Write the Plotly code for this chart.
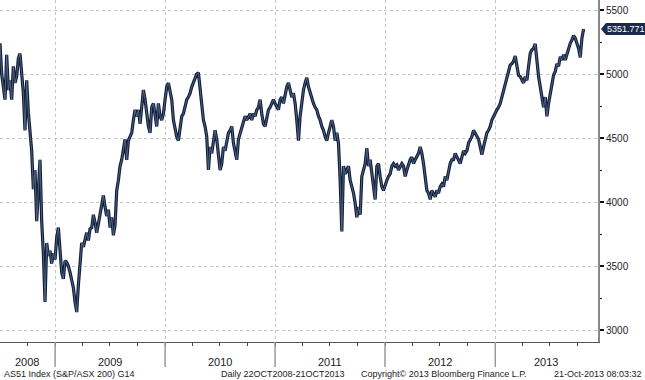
import pandas as pd
import plotly.graph_objects as go

# ---- data ----
start_date = "2008-07-02"
step = "7970min"   # sampling interval of the readings (~5.5 days)

values = [
    # Jul 2008 - Dec 2008 / early 2009
    5240, 5000, 4900, 4800, 5150, 4875, 4950, 4800, 5060, 4930,
    4980, 5120, 5160, 5030, 4850, 4560, 4950, 4700, 4560, 4400,
    4100, 4250, 3850, 4150, 4330, 3850, 3600, 3220, 3680, 3580,
    3620, 3520, 3600, 3550, 3720, 3800, 3650, 3450, 3400, 3540,
    3530, 3500, 3450, 3400, 3330, 3220, 3140, 3350, 3550, 3680,
    3650, 3720, 3760, 3700, 3790, 3800, 3900, 3840, 3760, 3830,
    3910, 3990, 4050, 3960, 3890, 3940, 3800, 3880, 3740, 3820,
    # 2009 - 2010
    4090, 4170, 4280, 4330, 4400, 4490, 4330, 4480, 4510, 4540,
    4640, 4720, 4670, 4720, 4610, 4740, 4875, 4800, 4670, 4590,
    4540, 4740, 4770, 4690, 4590, 4770, 4670, 4640, 4690, 4800,
    4900, 4930, 4875, 4800, 4640, 4560, 4510, 4480, 4590, 4670,
    4690, 4740, 4800, 4820, 4850, 4900, 4930, 4960, 5000, 5010,
    4880, 4750, 4640, 4590, 4510, 4250, 4430, 4380, 4490, 4560,
    4490, 4350, 4250, 4300, 4430, 4400,
    # 2010 - 2011
    4490, 4540, 4560, 4590, 4460, 4400, 4330, 4490, 4540, 4590,
    4640, 4670, 4640, 4670, 4690, 4640, 4690, 4670, 4720, 4740,
    4800, 4690, 4610, 4590, 4670, 4720, 4740, 4770, 4800, 4770,
    4740, 4720, 4800, 4820, 4770, 4850, 4900, 4930, 4875, 4820,
    4850, 4770, 4640, 4480, 4670, 4800, 4875, 4930, 4970, 4900,
    4850, 4800, 4770, 4740, 4720, 4670, 4640, 4590, 4560, 4510,
    4480, 4540, 4590, 4640, 4590, 4480,
    # 2011 - 2012
    4540, 4460, 4170, 3770, 4280, 4220, 4250, 4280, 4170, 4120,
    4070, 3990, 3880, 3960, 3900, 4200, 4250, 4300, 4420, 4280,
    4330, 4220, 4120, 4020, 4280, 4300, 4200, 4120, 4090, 4140,
    4170, 4200, 4220, 4280, 4300, 4280, 4290, 4250, 4280, 4300,
    4280, 4200, 4250, 4300, 4330, 4350, 4300, 4330, 4350, 4380,
    4430, 4380, 4300, 4200, 4090, 4070, 4020, 4090, 4070, 4040,
    4090, 4070, 4120, 4140, 4120, 4200,
    # 2012 - 2013
    4170, 4250, 4300, 4330, 4330, 4380, 4350, 4330, 4300, 4350,
    4400, 4380, 4400, 4460, 4490, 4510, 4560, 4540, 4510, 4490,
    4430, 4370, 4430, 4490, 4540, 4560, 4590, 4640, 4670, 4690,
    4720, 4740, 4770, 4820, 4875, 4930, 4980, 5030, 5070, 5080,
    5100, 5140, 5060, 4990, 4980, 4950, 4930, 4980, 4950, 5060,
    5160, 5190, 5200, 5235, 5080, 4980, 4900, 4820, 4740, 4820,
    4670, 4770, 4850, 4930, 4990, 5020,
    # 2013
    5080, 5060, 5135, 5110, 5150, 5110, 5160, 5200, 5240, 5265,
    5300, 5280, 5240, 5200, 5130, 5280, 5351.771,
]

year_boundaries = ["2009-01-01", "2010-01-01", "2011-01-01", "2012-01-01", "2013-01-01"]
year_labels = ["2008", "2009", "2010", "2011", "2012", "2013"]
year_label_dates = ["2008-10-01", "2009-07-02", "2010-07-02", "2011-07-02", "2012-07-02", "2013-06-20"]
y_ticks = [3000, 3500, 4000, 4500, 5000, 5500]
last_value_text = "5351.771"
footer = ["AS51 Index (S&P/ASX 200) G14", "Daily 22OCT2008-21OCT2013",
          "Copyright\u00a9 2013 Bloomberg Finance L.P.", "21-Oct-2013 08:03:32"]

dates = pd.date_range(start=start_date, periods=len(values), freq=step)

NAVY = "#0e1e3c"
LIGHT = "#6d7d96"
FONT = "Liberation Sans, Arial, sans-serif"

fig = go.Figure()
fig.add_trace(go.Scatter(x=dates, y=values, mode="lines",
                         line=dict(color=NAVY, width=3.2), hoverinfo="skip"))
fig.add_trace(go.Scatter(x=dates, y=values, mode="lines",
                         line=dict(color=LIGHT, width=0.7), hoverinfo="skip"))

fig.update_layout(
    width=645, height=380,
    margin=dict(l=0, r=47, t=0, b=38),
    paper_bgcolor="white", plot_bgcolor="white",
    showlegend=False,
    font=dict(family=FONT, size=10, color="#222"),
    xaxis=dict(
        type="date",
        range=["2008-07-02", "2013-12-08"],
        showline=True, linecolor="#555", linewidth=1,
        tick0="2009-01-01", dtick="M12",
        ticks="outside", ticklen=3, tickcolor="#444", tickwidth=1,
        showticklabels=False,
        showgrid=True, gridcolor="#c4c4c4", griddash="dot", gridwidth=1,
        minor=dict(dtick="M3", tick0="2008-01-01", ticks="outside", ticklen=3,
                   tickcolor="#444", tickwidth=1, showgrid=False),
        zeroline=False, fixedrange=True,
    ),
    yaxis=dict(
        side="right",
        range=[2906.25, 5578.1],
        tickvals=y_ticks,
        ticks="outside", ticklen=4, tickwidth=2, tickcolor="#111",
        showline=True, linecolor="#888", linewidth=2,
        showgrid=True, gridcolor="#c4c4c4", griddash="dot", gridwidth=1,
        minor=dict(dtick=250, tick0=3000, ticks="outside", ticklen=2,
                   tickcolor="#111", tickwidth=1, showgrid=False),
        tickfont=dict(family=FONT, size=10, color="#222"),
        zeroline=False, fixedrange=True,
    ),
)

# year separators below the axis
for d in year_boundaries:
    fig.add_shape(type="line", xref="x", yref="paper", x0=d, x1=d,
                  y0=0, y1=-25 / 342, line=dict(color="#999", width=1.5))

# year labels
for lab, d in zip(year_labels, year_label_dates):
    fig.add_annotation(x=d, xref="x", y=-(362 - 342) / 342, yref="paper",
                       text=lab, showarrow=False, yanchor="middle",
                       font=dict(size=11, color="#222"))

# footer
fy = -(374 - 342) / 342
ff = dict(size=9, color="#222")
fig.add_annotation(x=2 / 598, xref="paper", y=fy, yref="paper", text=footer[0],
                   showarrow=False, xanchor="left", yanchor="middle", font=ff)
fig.add_annotation(x=219 / 598, xref="paper", y=fy, yref="paper", text=footer[1],
                   showarrow=False, xanchor="left", yanchor="middle", font=ff)
fig.add_annotation(x=359 / 598, xref="paper", y=fy, yref="paper", text=footer[2],
                   showarrow=False, xanchor="left", yanchor="middle", font=ff)
fig.add_annotation(x=644 / 598, xref="paper", y=fy, yref="paper", text=footer[3],
                   showarrow=False, xanchor="right", yanchor="middle", font=ff)

# last value marker
last = values[-1]
fig.add_shape(type="path", xref="paper", yref="y",
              xsizemode="pixel", ysizemode="pixel", xanchor=1, yanchor=last,
              path="M 3,0 L 8,6 L 47,6 L 47,-6 L 8,-6 Z",
              fillcolor="#1b2a48", line=dict(width=0))
fig.add_annotation(x=1, xref="paper", xshift=7, y=last, yref="y",
                   text=last_value_text, showarrow=False, xanchor="left",
                   yanchor="middle", font=dict(size=9, color="white"))

fig.write_html("out.html",
               config={"displayModeBar": False},
               post_script="document.body.style.margin='0';"
                           "document.body.style.padding='0';"
                           "document.body.style.overflow='hidden';")
